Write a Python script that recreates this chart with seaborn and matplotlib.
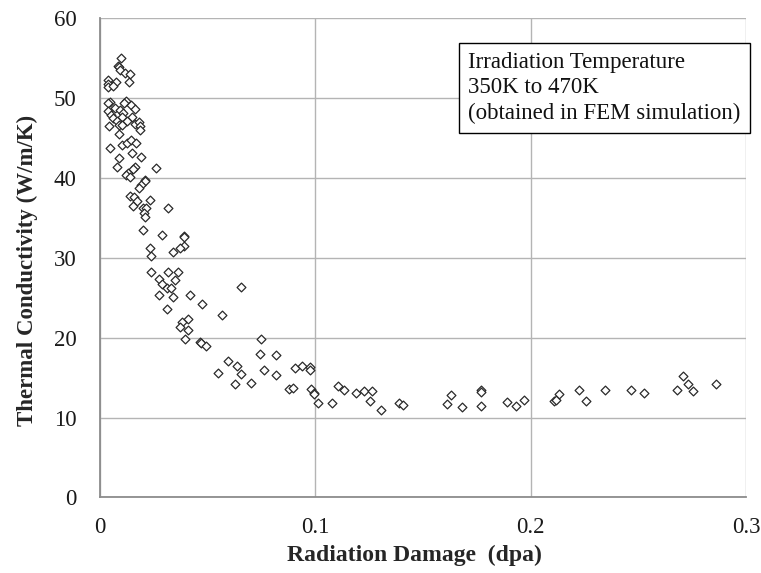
import numpy as np
import pandas as pd
import matplotlib
matplotlib.use("Agg")
import matplotlib.pyplot as plt
import seaborn as sns

dpa = [0.0097, 0.0084, 0.0087, 0.0092, 0.0115, 0.0141, 0.0135, 0.0035, 0.0035, 0.0038,
       0.0074, 0.0061, 0.0046, 0.0038, 0.0123, 0.0112, 0.0146, 0.0161, 0.0038, 0.0072,
       0.0051, 0.0061, 0.0092, 0.0107, 0.0100, 0.0149, 0.0077, 0.0126, 0.0089, 0.0103,
       0.0161, 0.0181, 0.0184, 0.0187, 0.0041, 0.0089, 0.0046, 0.0103, 0.0126, 0.0143,
       0.0169, 0.0150, 0.0192, 0.0087, 0.0080, 0.0261, 0.0161, 0.0153, 0.0130, 0.0123,
       0.0138, 0.0210, 0.0207, 0.0192, 0.0181, 0.0138, 0.0156, 0.0173, 0.0153, 0.0230,
       0.0199, 0.0215, 0.0204, 0.0210, 0.0318, 0.0202, 0.0288, 0.0388, 0.0388, 0.0391,
       0.0373, 0.0341, 0.0233, 0.0238, 0.0235, 0.0318, 0.0360, 0.0350, 0.0273, 0.0288,
       0.0311, 0.0330, 0.0273, 0.0337, 0.0419, 0.0654, 0.0475, 0.0311, 0.0566, 0.0411,
       0.0379, 0.0370, 0.0411, 0.0393, 0.0464, 0.0469, 0.0490, 0.0750, 0.0593, 0.0546,
       0.0638, 0.0654, 0.0629, 0.0699, 0.0742, 0.0761, 0.0817, 0.0817, 0.0905, 0.0936,
       0.0974, 0.0974, 0.0878, 0.0897, 0.0979, 0.0994, 0.0996, 0.1013, 0.1078, 0.1106,
       0.1132, 0.1191, 0.1227, 0.1261, 0.1256, 0.1304, 0.1390, 0.1408, 0.1613, 0.1632,
       0.1681, 0.1771, 0.1771, 0.1768, 0.1890, 0.1930, 0.1967, 0.2109, 0.2119, 0.2132,
       0.2225, 0.2259, 0.2344, 0.2465, 0.2526, 0.2680, 0.2707, 0.2730, 0.2753, 0.2862]

conductivity = [55.0, 54.1, 53.9, 53.6, 53.2, 53.0, 52.1, 52.3, 51.8, 51.4,
                52.0, 51.6, 49.5, 49.4, 49.7, 49.4, 49.2, 48.7, 48.4, 48.8,
                47.9, 47.5, 48.5, 48.2, 47.7, 47.7, 47.2, 47.1, 46.7, 46.6,
                46.8, 47.0, 46.5, 46.0, 46.5, 45.5, 43.8, 44.1, 44.4, 44.8,
                44.4, 43.1, 42.7, 42.5, 41.4, 41.3, 41.4, 41.2, 40.6, 40.4,
                40.1, 39.8, 39.6, 39.2, 38.8, 37.8, 37.6, 37.1, 36.5, 37.2,
                36.3, 36.2, 35.6, 35.1, 36.3, 33.5, 32.9, 32.8, 32.6, 31.5,
                31.2, 30.7, 31.2, 30.2, 28.2, 28.2, 28.2, 27.3, 27.4, 26.8,
                26.3, 26.3, 25.4, 25.1, 25.3, 26.4, 24.2, 23.6, 22.9, 22.4,
                22.0, 21.4, 21.0, 19.8, 19.5, 19.3, 19.0, 19.8, 17.1, 15.6,
                16.5, 15.5, 14.2, 14.4, 18.0, 16.0, 17.9, 15.3, 16.2, 16.5,
                16.3, 16.0, 13.6, 13.7, 13.6, 13.1, 12.9, 11.8, 11.8, 14.0,
                13.4, 13.1, 13.3, 13.3, 12.1, 11.0, 11.8, 11.6, 11.7, 12.8,
                11.3, 13.4, 13.2, 11.5, 11.9, 11.4, 12.2, 12.1, 12.2, 12.9,
                13.4, 12.1, 13.4, 13.5, 13.1, 13.4, 15.2, 14.2, 13.3, 14.2]

x_ticks = [0, 0.1, 0.2, 0.3]
x_tick_labels = ["0", "0.1", "0.2", "0.3"]
y_ticks = [0, 10, 20, 30, 40, 50, 60]

df = pd.DataFrame({"dpa": dpa, "k": conductivity})

sns.set_style("white")
plt.rcParams["font.family"] = ["Liberation Serif", "DejaVu Serif"]

fig = plt.figure(figsize=(7.61, 5.73), dpi=100)
ax = fig.add_axes([0.1314, 0.1318, 0.8489, 0.8360])

sns.scatterplot(data=df, x="dpa", y="k", ax=ax, marker="D", s=20,
                facecolor="white", edgecolor="#2a2a2a", linewidth=0.9, zorder=3,
                clip_on=False)

ax.set_xlim(0, 0.3)
ax.set_ylim(0, 60)
ax.set_xticks(x_ticks)
ax.set_xticklabels(x_tick_labels)
ax.set_yticks(y_ticks)
ax.grid(True, color="#b4b4b4", linewidth=1.0)
ax.set_axisbelow(True)
for side in ["top", "right"]:
    ax.spines[side].set_visible(False)
for side in ["left", "bottom"]:
    ax.spines[side].set_color("#8c8c8c")
    ax.spines[side].set_linewidth(1.3)
ax.tick_params(axis="both", which="both", length=5, width=1.0, color="#8c8c8c",
               labelsize=16.5, labelcolor="#1a1a1a", direction="out")
ax.tick_params(axis="y", pad=12)
ax.tick_params(axis="x", pad=9)

ax.set_xlabel("Radiation Damage  (dpa)", fontsize=17, fontweight="bold")
ax.set_ylabel("Thermal Conductivity (W/m/K)", fontsize=16.5, fontweight="bold")
ax.xaxis.set_label_coords(0.486, -0.12)
ax.yaxis.set_label_coords(-0.113, 0.475)
ax.xaxis.label.set_va("center")
ax.yaxis.label.set_va("center")

ax.text(0.5697, 0.930,
        "Irradiation Temperature\n350K to 470K\n(obtained in FEM simulation)",
        transform=ax.transAxes, fontsize=16.5, va="top", ha="left", linespacing=1.27,
        color="#111111",
        bbox=dict(boxstyle="square,pad=0.4", facecolor="white", edgecolor="black", linewidth=1.0),
        zorder=5)

fig.savefig("out.png", dpi=100)
